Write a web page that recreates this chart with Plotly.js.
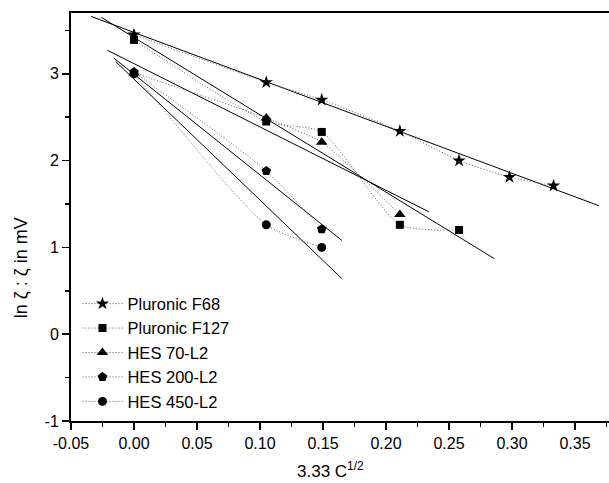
<!DOCTYPE html>
<html>
<head>
<meta charset="utf-8">
<script src="https://cdn.plot.ly/plotly-3.0.1.min.js"></script>
<style>html,body{margin:0;padding:0;background:#fff;}#chart{width:609px;height:483px;}</style>
</head>
<body>
<div id="chart"></div>
<script>
// Series names and x values (3.33 C^1/2)
var seriesNames = ["Pluronic F68", "Pluronic F127", "HES 70-L2", "HES 200-L2", "HES 450-L2"];
var xF68 = [0, 0.105, 0.149, 0.211, 0.258, 0.298, 0.333];
var yF68 = [3.45, 2.90, 2.70, 2.34, 2.00, 1.81, 1.71];
var xF127 = [0, 0.105, 0.149, 0.211, 0.258];
var yF127 = [3.39, 2.45, 2.33, 1.26, 1.20];
var xHES70 = [0, 0.105, 0.149, 0.211];
var yHES70 = [3.01, 2.49, 2.21, 1.38];
var xHES200 = [0, 0.105, 0.149];
var yHES200 = [3.02, 1.88, 1.21];
var xHES450 = [0, 0.105, 0.149];
var yHES450 = [3.00, 1.26, 1.00];
// Linear fit line end points
var fitX0 = [-0.034, -0.026, -0.021, -0.016, -0.0145];
var fitY0 = [3.66, 3.65, 3.27, 3.18, 3.14];
var fitX1 = [0.369, 0.286, 0.234, 0.165, 0.165];
var fitY1 = [1.48, 0.87, 1.41, 1.08, 0.64];
// Tick labels
var xTickVals = [-0.05, 0, 0.05, 0.10, 0.15, 0.20, 0.25, 0.30, 0.35];
var xTickText = ["-0.05", "0.00", "0.05", "0.10", "0.15", "0.20", "0.25", "0.30", "0.35"];
var yTickVals = [-1, 0, 1, 2, 3];
var yTickText = ["-1", "0", "1", "2", "3"];
var symbols = ["star", "square", "triangle-up", "pentagon", "circle"];
var symbolSizes = [10, 8, 10, 10, 9];

var xs = [xF68, xF127, xHES70, xHES200, xHES450];
var ys = [yF68, yF127, yHES70, yHES200, yHES450];
var traces = [];
for (var i = 0; i < seriesNames.length; i++) {
  traces.push({
    x: [fitX0[i], fitX1[i]], y: [fitY0[i], fitY1[i]],
    mode: "lines", line: {color: "#000", width: 1}, showlegend: false, hoverinfo: "skip"
  });
}
for (var j = 0; j < seriesNames.length; j++) {
  traces.push({
    x: xs[j], y: ys[j], name: seriesNames[j],
    mode: "lines+markers",
    line: {color: "#555", width: 1, dash: "1px,2px", shape: "spline", smoothing: 0.6},
    marker: {symbol: symbols[j], size: symbolSizes[j], color: "#000", line: {width: 0}}
  });
}
var fam = "Liberation Sans, Arial, sans-serif";
var layout = {
  width: 609, height: 483,
  margin: {l: 71, r: 0, t: 13, b: 62},
  paper_bgcolor: "#fff", plot_bgcolor: "#fff",
  font: {family: fam, color: "#000", size: 16},
  showlegend: true,
  legend: {x: 0.012, y: 0.33, xanchor: "left", yanchor: "top", bgcolor: "rgba(0,0,0,0)",
           font: {size: 16.5, family: fam, color: "#000"}, tracegroupgap: 0, itemwidth: 40},
  xaxis: {
    range: [-0.05, 0.377], showgrid: false, zeroline: false,
    showline: true, linecolor: "#000", linewidth: 2, mirror: true,
    ticks: "outside", ticklen: 7, tickwidth: 1.5, tickcolor: "#000",
    tickmode: "array", tickvals: xTickVals, ticktext: xTickText,
    tickfont: {size: 16, family: fam, color: "#000"},
    minor: {tickmode: "linear", tick0: -0.025, dtick: 0.05, ticks: "outside", ticklen: 4, tickwidth: 1.5, tickcolor: "#000", showgrid: false}
  },
  yaxis: {
    range: [-1, 3.7], showgrid: false, zeroline: false,
    showline: true, linecolor: "#000", linewidth: 2,
    ticks: "outside", ticklen: 7, tickwidth: 1.5, tickcolor: "#000",
    tickmode: "array", tickvals: yTickVals, ticktext: yTickText,
    tickfont: {size: 16, family: fam, color: "#000"},
    minor: {tickmode: "linear", tick0: -0.5, dtick: 1, ticks: "outside", ticklen: 4, tickwidth: 1.5, tickcolor: "#000", showgrid: false}
  },
  annotations: [
    {text: "ln ζ : ζ in mV", textangle: -90, xref: "paper", yref: "paper",
     x: -0.093, y: 0.377, xanchor: "center", yanchor: "middle", showarrow: false,
     font: {size: 18, family: fam, color: "#000"}},
    {text: "3.33 C<sup>1/2</sup>", xref: "paper", yref: "paper",
     x: 0.483, y: -0.12, xanchor: "center", yanchor: "middle", showarrow: false,
     font: {size: 17, family: fam, color: "#000"}}
  ]
};
Plotly.newPlot("chart", traces, layout, {displayModeBar: false, staticPlot: true});
</script>
</body>
</html>
